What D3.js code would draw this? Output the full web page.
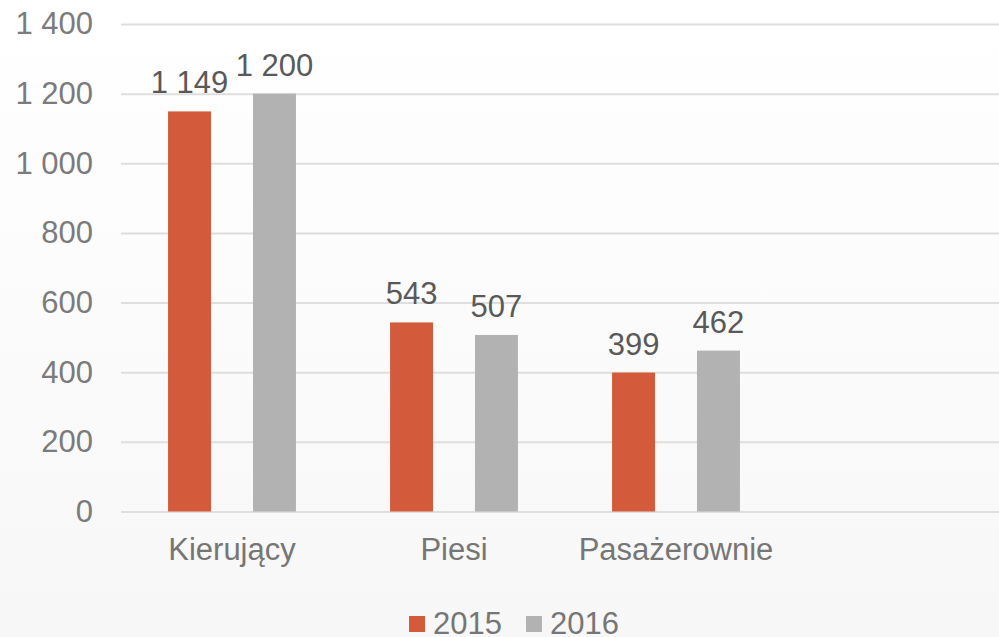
<!DOCTYPE html>
<html>
<head>
<meta charset="utf-8">
<script src="https://cdn.jsdelivr.net/npm/d3@7"></script>
<style>
  html, body { margin: 0; padding: 0; background: #fff; }
  svg { display: block; font-family: "Liberation Sans", Arial, sans-serif; }
</style>
</head>
<body>
<div id="chart"></div>
<script>
// data
const categories = ["Kierujący", "Piesi", "Pasażerownie", ""];
const series = ["2015", "2016"];
const values2015 = [1149, 543, 399];
const values2016 = [1200, 507, 462];
const yTicks = [0, 200, 400, 600, 800, 1000, 1200, 1400];
const colors = { "2015": "#d35b3c", "2016": "#b2b2b2" };

const W = 999, H = 637;
const margin = { top: 24, right: -10, bottom: 125.5, left: 121 };

const svg = d3.select("#chart").append("svg")
  .attr("width", W)
  .attr("height", H);

// soft background fade
const grad = svg.append("defs").append("linearGradient")
  .attr("id", "bg").attr("x1", 0).attr("y1", 0).attr("x2", 0).attr("y2", 1);
grad.append("stop").attr("offset", "0%").attr("stop-color", "#ffffff");
grad.append("stop").attr("offset", "100%").attr("stop-color", "#f7f7f7");
svg.append("rect").attr("width", W).attr("height", H).attr("fill", "url(#bg)");

const x = d3.scaleBand()
  .domain(categories)
  .range([margin.left, W - margin.right]);

const xs = d3.scaleBand()
  .domain(series)
  .range([x.bandwidth() * 0.212, x.bandwidth() * 0.788])
  .paddingInner(42 / 85);

const y = d3.scaleLinear()
  .domain([0, 1400])
  .range([H - margin.bottom, margin.top]);

const pl = d3.formatLocale({ decimal: ",", thousands: "\u00a0", grouping: [3], currency: ["", " zł"] });
const fmt = pl.format(",d");

// gridlines + tick labels
const yAxis = svg.append("g")
  .attr("transform", `translate(${margin.left},0)`)
  .call(d3.axisLeft(y).tickValues(yTicks).tickSize(-(W - margin.left)).tickPadding(28).tickFormat(fmt));
yAxis.select(".domain").remove();
yAxis.selectAll(".tick line").attr("stroke", "#dedede").attr("stroke-width", 2);
yAxis.selectAll(".tick text")
  .attr("fill", "#7b7b7b")
  .style("font-size", "31px");

// rows of data per category
const rows = categories.slice(0, 3).map((c, i) => ({
  cat: c,
  vals: [{ s: "2015", v: values2015[i] }, { s: "2016", v: values2016[i] }]
}));

const groups = svg.append("g").selectAll("g")
  .data(rows)
  .join("g")
  .attr("transform", d => `translate(${x(d.cat)},0)`);

groups.selectAll("rect")
  .data(d => d.vals)
  .join("rect")
  .attr("x", d => xs(d.s))
  .attr("width", xs.bandwidth())
  .attr("y", d => y(d.v))
  .attr("height", d => y(0) - y(d.v))
  .attr("fill", d => colors[d.s]);

groups.selectAll("text.val")
  .data(d => d.vals)
  .join("text")
  .attr("class", "val")
  .attr("x", d => xs(d.s) + xs.bandwidth() / 2)
  .attr("y", d => y(d.v) - 18)
  .attr("text-anchor", "middle")
  .attr("fill", "#595959")
  .style("font-size", "31px")
  .text(d => fmt(d.v));

// category labels
svg.append("g").selectAll("text")
  .data(categories.filter(c => c))
  .join("text")
  .attr("x", d => x(d) + x.bandwidth() / 2)
  .attr("y", 560)
  .attr("text-anchor", "middle")
  .attr("fill", "#767676")
  .style("font-size", "31px")
  .text(d => d);

// legend
const legendX = [409, 526];
const legend = svg.append("g").selectAll("g")
  .data(series)
  .join("g")
  .attr("transform", (d, i) => `translate(${legendX[i]},616)`);
legend.append("rect")
  .attr("width", 16).attr("height", 16)
  .attr("fill", d => colors[d]);
legend.append("text")
  .attr("x", 24).attr("y", 18)
  .attr("fill", "#767676")
  .style("font-size", "31px")
  .text(d => d);
</script>
</body>
</html>
